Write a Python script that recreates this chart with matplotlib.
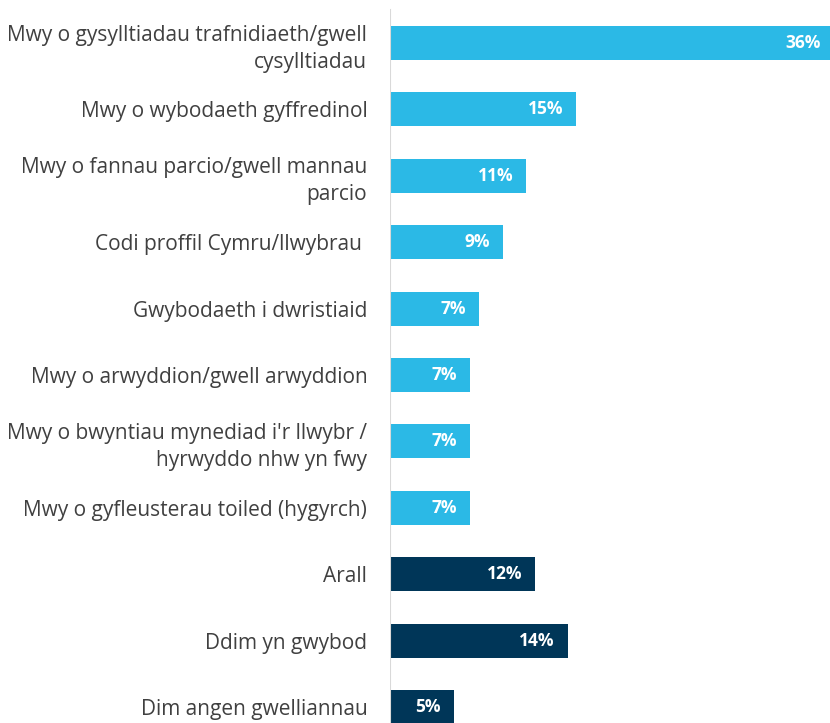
import matplotlib
matplotlib.use("Agg")
import matplotlib.pyplot as plt

categories = [
    "Mwy o gysylltiadau trafnidiaeth/gwell\ncysylltiadau",
    "Mwy o wybodaeth gyffredinol",
    "Mwy o fannau parcio/gwell mannau\nparcio",
    "Codi proffil Cymru/llwybrau ",
    "Gwybodaeth i dwristiaid",
    "Mwy o arwyddion/gwell arwyddion",
    "Mwy o bwyntiau mynediad i'r llwybr /\nhyrwyddo nhw yn fwy",
    "Mwy o gyfleusterau toiled (hygyrch)",
    "Arall",
    "Ddim yn gwybod",
    "Dim angen gwelliannau",
]
values = [35.7, 15.0, 11.0, 9.1, 7.2, 6.5, 6.5, 6.5, 11.7, 14.3, 5.2]
value_labels = ["36%", "15%", "11%", "9%", "7%", "7%", "7%", "7%", "12%", "14%", "5%"]
groups = ["improve"] * 8 + ["other"] * 3

colors = {"improve": "#2BB9E6", "other": "#003658"}

W, H = 830, 723
fig = plt.figure(figsize=(W / 100, H / 100), dpi=100)
axis_x = 389.5
px_per_pct = 12.45
ax = fig.add_axes([axis_x / W, 0, 1 - axis_x / W, 1])

spacing = 66.4
first_center = 43
ypos = list(range(len(categories)))
ax.barh(ypos, values, height=34 / spacing,
        color=[colors[g] for g in groups], edgecolor="none")

ax.set_xlim(0, (W - axis_x) / px_per_pct)
ax.set_ylim((H - first_center) / spacing, -first_center / spacing)

for s in ax.spines.values():
    s.set_visible(False)
ax.set_xticks([])
ax.set_yticks(ypos)
ax.set_yticklabels(categories, fontsize=15.0, color="#404040",
                   family="Open Sans", linespacing=1.38)
ax.tick_params(axis="y", length=0, pad=16)
for t in ax.get_yticklabels():
    t.set_horizontalalignment("right")
    t.set_multialignment("right")

ax.axvline(0, ymin=0, ymax=1 - 10 / H, color="#D9D9D9", lw=1.5)

for y, v, lab in zip(ypos, values, value_labels):
    ax.annotate(lab, xy=(v, y), xytext=(-9.5, 0), textcoords="offset points",
                ha="right", va="center", color="white", fontsize=12.5,
                fontweight="bold", family="Open Sans", annotation_clip=False)

fig.savefig("out.png", dpi=100)
